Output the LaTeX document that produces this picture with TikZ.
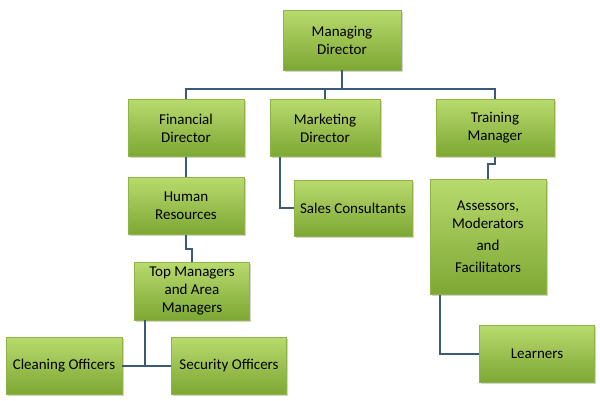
\documentclass[tikz,border=0pt]{standalone}
\usepackage{fontspec}
\setmainfont{Carlito}
\usetikzlibrary{shadows}
\definecolor{boxtop}{HTML}{B8DA6E}
\definecolor{boxbot}{HTML}{7DA733}
\definecolor{boxline}{HTML}{8FB446}
\definecolor{linkcol}{HTML}{3B5A78}
\begin{document}
\begin{tikzpicture}[x=1pt,y=-1pt]
        \tikzstyle{post}=[rectangle,draw=boxline,thick,top color=boxtop,bottom color=boxbot,
          drop shadow={shadow xshift=1.5pt,shadow yshift=-1.5pt,opacity=0.35},
          align=center,font=\fontsize{15}{18}\selectfont,inner sep=1pt]
        \tikzstyle{link}=[draw=linkcol,line width=2.5pt]
       \useasboundingbox (0,0) rectangle (600,400);
       \begin{scope}
         \node [post,minimum width=118,minimum height=60] (md) at (342,40) {Managing\\Director};
         \node [post,minimum width=116,minimum height=57] (fd) at (186,128) {Financial\\Director};
         \node [post,minimum width=110,minimum height=57] (mk) at (325,128) {Marketing\\Director};
         \node [post,minimum width=118,minimum height=57] (tm) at (495,128) {Training\\Manager};
         \node [post,minimum width=116,minimum height=57] (hr) at (186,206) {Human\\Resources};
         \node [post,minimum width=118,minimum height=56] (sc) at (353,208) {Sales Consultants};
         \node [post,minimum width=116,minimum height=115] (as) at (488,237) {Assessors,\\Moderators\\[4pt]and\\[4pt]Facilitators};
         \node [post,minimum width=115,minimum height=58] (tp) at (192,291) {Top Managers\\and Area\\Managers};
         \node [post,minimum width=116,minimum height=57] (co) at (64,366) {Cleaning Officers};
         \node [post,minimum width=115,minimum height=57] (so) at (229,366) {Security Officers};
         \node [post,minimum width=115,minimum height=57] (ln) at (537,354) {Learners};
         \coordinate (bar) at (342,90);
         \path[link] (md.south) -- (bar);
         \path[link] (fd.north) -- ++(0,-10) -| (tm.north);
         \path[link] (mk.north) -- ++(0,-10);
         \path[link] (fd.south) -- (hr.north);
         \path[link] (hr.south) -- ++(0,14) -- ++(6,0) |- (tp.north);
         \path[link] ([xshift=-45]mk.south) |- (sc.west);
         \path[link] (tm.south) -- ++(0,7) -| (as.north);
         \path[link] ([xshift=-48]as.south) |- (ln.west);
         \path[link] ([xshift=-47]tp.south) |- (co.east);
         \path[link] ([xshift=-47]tp.south) |- (so.west);
        \end{scope}
      \end{tikzpicture}
\end{document}
